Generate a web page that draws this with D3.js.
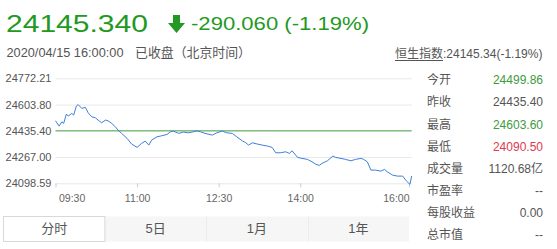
<!DOCTYPE html>
<html>
<head>
<meta charset="utf-8">
<script src="https://cdn.jsdelivr.net/npm/d3@7"></script>
<style>
  body { margin: 0; background: #fff; }
  text { font-family: "Liberation Sans", Arial, "Noto Sans CJK SC", sans-serif; }
</style>
</head>
<body>
<div id="chart"></div>
<script>
// index data
var lastPrice = "24145.340";
var change = "-290.060 (-1.19%)";
var stamp = "2020/04/15 16:00:00";
var status = "已收盘（北京时间）";
var indexName = "恒生指数";
var indexQuote = ":24145.34(-1.19%)";
var prevClose = 24435.40;

var yTicks = [24098.59, 24267.00, 24435.40, 24603.80, 24772.21];
var xTickMins = [0, 90, 180, 270, 390];
var xTickLabels = ["09:30", "11:00", "12:30", "14:00", "16:00"];

// minutes after 09:30
var mins = [0, 4, 7, 9, 12, 14, 18, 20, 23, 25, 29, 33, 36, 40, 44, 47, 51, 55, 58, 62,
  66, 69, 73, 79, 84, 90, 95, 99, 103, 106, 112, 117, 123, 127, 130, 136, 141, 147, 152, 156,
  160, 165, 173, 178, 184, 189, 195, 200, 206, 210, 213, 217, 223, 228, 234, 239, 243, 248, 254, 258,
  261, 265, 267, 272, 278, 283, 287, 291, 294, 300, 306, 309, 315, 320, 326, 331, 337, 340, 344, 348,
  353, 359, 363, 366, 372, 377, 383, 387, 391, 393];
var prices = [24499.9, 24465.5, 24493.1, 24482.9, 24542.5, 24529.7, 24547.0, 24536.1, 24593.9, 24603.6,
  24579.1, 24585.5, 24550.9, 24525.2, 24518.8, 24504.0, 24486.7, 24504.0, 24499.5, 24482.9,
  24461.1, 24439.9, 24418.7, 24386.6, 24350.1, 24328.9, 24354.6, 24369.3, 24343.7, 24375.7,
  24396.9, 24403.3, 24412.3, 24429.0, 24433.5, 24418.7, 24427.1, 24422.6, 24429.0, 24435.4,
  24429.0, 24418.7, 24407.8, 24422.6, 24433.5, 24422.6, 24418.7, 24396.9, 24371.2, 24358.4,
  24343.7, 24358.4, 24350.1, 24343.7, 24337.3, 24328.9, 24294.3, 24294.3, 24300.7, 24290.4,
  24307.1, 24279.5, 24264.8, 24258.3, 24251.9, 24236.5, 24221.8, 24213.4, 24226.3, 24243.0,
  24273.1, 24264.8, 24258.3, 24251.9, 24243.0, 24251.9, 24258.3, 24251.9, 24236.5, 24183.3,
  24183.3, 24176.8, 24187.8, 24172.4, 24151.2, 24144.8, 24144.8, 24114.7, 24092.0, 24145.3];

var statLabels = ["今开", "昨收", "最高", "最低", "成交量", "市盈率", "每股收益", "总市值"];
var statValues = ["24499.86", "24435.40", "24603.60", "24090.50", "1120.68亿", "--", "0.00", "--"];
var statColors = ["#3d9a3d", "#555", "#3d9a3d", "#e0384e", "#555", "#555", "#555", "#555"];

var tabLabels = ["分时", "5日", "1月", "1年"];

var green = "#229922";

var svg = d3.select("#chart")
  .append("svg")
  .attr("width", 557)
  .attr("height", 249);

function txt(str, x, y, size, color, anchor, len) {
  var t = svg.append("text")
    .attr("x", x)
    .attr("y", y)
    .attr("font-size", size)
    .attr("fill", color)
    .attr("text-anchor", anchor || "start")
    .text(str);
  if (len) t.attr("textLength", len).attr("lengthAdjust", "spacingAndGlyphs");
  return t;
}

// header
txt(lastPrice, 6, 31.7, 23.5, green, "start", 142);
svg.append("path")
  .attr("d", "M173,15 L180,15 L180,23 L185,23 L176.5,33 L168,23 L173,23 Z")
  .attr("fill", green);
txt(change, 191, 30, 18.5, green, "start", 178);
txt(stamp, 6.5, 56.5, 12.5, "#555", "start", 117);
txt(status, 135, 57, 13, "#555", "start", 116);

var hs = svg.append("text")
  .attr("x", 395)
  .attr("y", 58)
  .attr("font-size", 12)
  .attr("fill", "#555");
hs.append("tspan").text(indexName);
hs.append("tspan").text(indexQuote);
svg.append("line")
  .attr("x1", 395).attr("x2", 443)
  .attr("y1", 60.5).attr("y2", 60.5)
  .attr("stroke", "#555");

// chart
var x = d3.scaleLinear().domain([0, 393]).range([55.5, 411.7]);
var y = d3.scaleLinear().domain([yTicks[0], yTicks[yTicks.length - 1]]).range([183.3, 78.3]);

var yAxis = svg.append("g")
  .attr("transform", "translate(" + x.range()[0] + ",0)")
  .call(d3.axisLeft(y)
    .tickValues(yTicks)
    .tickFormat(d3.format(".2f"))
    .tickSize(-(x.range()[1] - x.range()[0]))
    .tickPadding(4));
yAxis.select(".domain").remove();
yAxis.selectAll("line").attr("stroke", "#e8e8e8");
yAxis.selectAll("text")
  .attr("fill", "#555")
  .attr("font-size", 11)
  .attr("font-family", "Liberation Sans, Arial, sans-serif");

var xAxis = svg.append("g")
  .attr("transform", "translate(0," + y.range()[0] + ")")
  .call(d3.axisBottom(x)
    .tickValues(xTickMins)
    .tickFormat(function(d, i) { return xTickLabels[i]; })
    .tickSize(4)
    .tickPadding(7));
xAxis.select(".domain").remove();
xAxis.selectAll("line").attr("stroke", "#ccc");
xAxis.selectAll("text")
  .attr("fill", "#666")
  .attr("font-size", 10.5)
  .attr("font-family", "Liberation Sans, Arial, sans-serif")
  .attr("text-anchor", function(d, i) {
    return i === 0 ? "start" : i === xTickMins.length - 1 ? "end" : "middle";
  })
  .attr("dx", function(d, i) { return i === 0 ? 3 : 0; });

svg.append("line")
  .attr("x1", x.range()[0]).attr("x2", x.range()[1])
  .attr("y1", y(prevClose)).attr("y2", y(prevClose))
  .attr("stroke", "#4fa84f");

var line = d3.line()
  .x(function(d, i) { return x(mins[i]); })
  .y(function(d) { return y(d); });

svg.append("path")
  .datum(prices)
  .attr("fill", "none")
  .attr("stroke", "#3d7fdb")
  .attr("stroke-width", 1)
  .attr("d", line);

// stats panel
statLabels.forEach(function(d, i) {
  var cy = 80 + i * 22.1;
  txt(d, 427, cy + 4.3, 12, "#555");
  txt(statValues[i], 543, cy + 4.3, 12, statColors[i], "end");
});

// tabs
var band = d3.scaleBand().domain(tabLabels).range([3.5, 409]);
svg.append("rect")
  .attr("x", band.range()[0]).attr("y", 216.5)
  .attr("width", band.range()[1] - band.range()[0]).attr("height", 25)
  .attr("fill", "#f6f6f6");
svg.selectAll(".sep")
  .data(tabLabels.slice(2))
  .enter()
  .append("line")
  .attr("x1", function(d) { return Math.round(band(d)) + 0.5; })
  .attr("x2", function(d) { return Math.round(band(d)) + 0.5; })
  .attr("y1", 216.5).attr("y2", 241.5)
  .attr("stroke", "#ececec");
svg.append("rect")
  .attr("x", 3.5).attr("y", 216.5)
  .attr("width", band.bandwidth()).attr("height", 25)
  .attr("fill", "#fff")
  .attr("stroke", "#d8d8d8");
tabLabels.forEach(function(d) {
  txt(d, band(d) + band.bandwidth() / 2, 233, 13, "#555", "middle");
});
</script>
</body>
</html>
